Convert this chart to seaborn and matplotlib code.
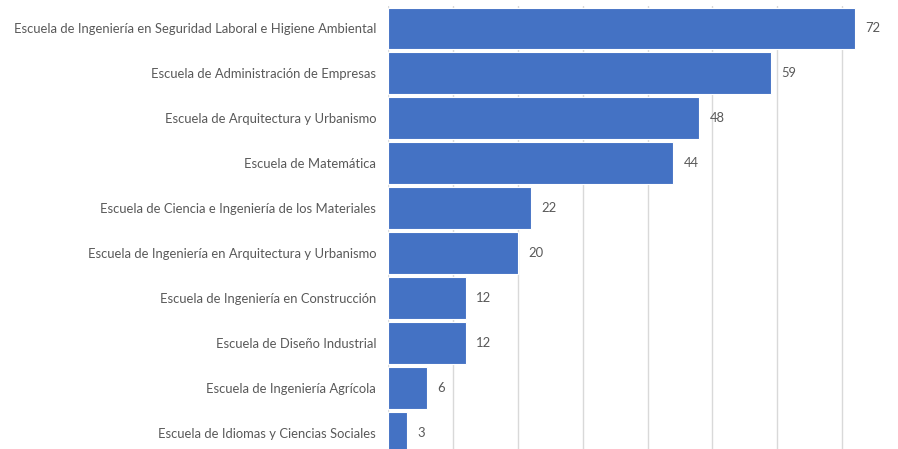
import pandas as pd
import matplotlib
matplotlib.use('Agg')
import matplotlib.pyplot as plt
import seaborn as sns


schools = [
    'Escuela de Ingeniería en Seguridad Laboral e Higiene Ambiental',
    'Escuela de Administración de Empresas',
    'Escuela de Arquitectura y Urbanismo',
    'Escuela de Matemática',
    'Escuela de Ciencia e Ingeniería de los Materiales',
    'Escuela de Ingeniería en Arquitectura y Urbanismo',
    'Escuela de Ingeniería en Construcción',
    'Escuela de Diseño Industrial',
    'Escuela de Ingeniería Agrícola',
    'Escuela de Idiomas y Ciencias Sociales',
]
counts = [72, 59, 48, 44, 22, 20, 12, 12, 6, 3]

BAR_COLOR = '#4472C4'
TEXT_COLOR = '#595959'
GRID_COLOR = '#D9D9D9'


def main():
    sns.set_theme(style='white')
    plt.rcParams['font.family'] = ['Lato', 'DejaVu Sans']

    df = pd.DataFrame({'school': schools, 'count': counts})

    fig = plt.figure(figsize=(8.98, 4.49), dpi=100)
    # axes placed so that the right end (80) and last row fall outside the canvas
    ax = fig.add_axes([388 / 898, -6 / 449, 519 / 898, 449 / 449])

    sns.barplot(data=df, x='count', y='school', orient='h', color=BAR_COLOR,
                saturation=1, width=0.93, edgecolor='white', linewidth=0.8,
                ax=ax, zorder=3)

    ax.set_xlim(0, 80)
    ax.set_ylim(9.5, -0.5)
    ax.set_xticks(range(0, 81, 10))
    ax.xaxis.grid(True, color=GRID_COLOR, linewidth=1.0, zorder=0)
    ax.set_axisbelow(True)
    ax.set_xlabel('')
    ax.set_ylabel('')
    ax.tick_params(axis='x', bottom=False, labelbottom=False)
    ax.tick_params(axis='y', left=False, length=0, pad=8.5, labelsize=9.4,
                   labelcolor=TEXT_COLOR)
    for side in ['top', 'right', 'bottom', 'left']:
        ax.spines[side].set_visible(False)

    ax.bar_label(ax.containers[0], padding=7.5, fontsize=9.4, color=TEXT_COLOR)

    fig.savefig('out.png', dpi=100)
    plt.close(fig)


if __name__ == '__main__':
    main()
